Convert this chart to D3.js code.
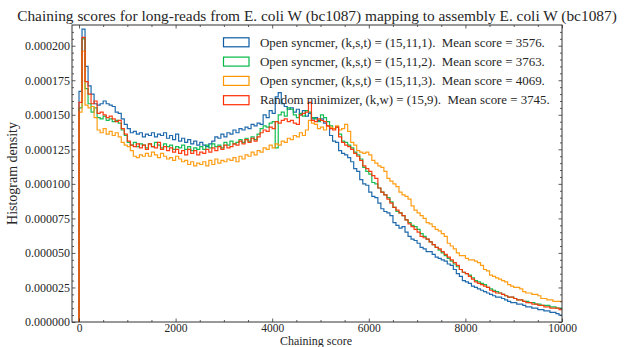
<!DOCTYPE html>
<html>
<head>
<meta charset="utf-8">
<script src="https://cdn.jsdelivr.net/npm/d3@7"></script>
<style>
  html, body { margin: 0; padding: 0; background: #ffffff; }
  svg { display: block; font-family: "Liberation Serif", "Times New Roman", serif; }
  text { white-space: pre; }
</style>
</head>
<body>
<svg id="chart" width="626" height="347"></svg>
<script>
// ---------- data (histogram density, in units of 1e-6) ----------
const titleText = "Chaining scores for long-reads from E. coli W (bc1087) mapping to assembly E. coli W (bc1087)";
const xLabelText = "Chaining score";
const yLabelText = "Histogram density";
const densityUnit = 1e-6;
const binWidth = 62.5;           // score units per histogram bin
const xTicks = [0, 2000, 4000, 6000, 8000, 10000];
const yTicks = [0, 0.000025, 0.00005, 0.000075, 0.0001, 0.000125, 0.00015, 0.000175, 0.0002];

const seriesLabels = [
  "Open syncmer, (k,s,t) = (15,11,1).  Mean score = 3576.",
  "Open syncmer, (k,s,t) = (15,11,2).  Mean score = 3763.",
  "Open syncmer, (k,s,t) = (15,11,3).  Mean score = 4069.",
  "Random minimizer, (k,w) = (15,9).  Mean score = 3745."
];
const seriesColors = ["#0C5DA5", "#00B945", "#FF9500", "#FF2C00"];

const syncmerT1 = [
  167,212,185,171,165,158,157,158,160,158,
  157,156,152,151,147,143,140,137,138,136,
  137,134,136,135,137,134,136,135,137,133,
  135,132,136,131,133,130,132,129,131,128,
  130,128,127,129,131,134,133,136,134,137,
  136,139,137,140,139,141,140,143,142,144,
  143,150,148,153,151,163,166,158,156,154,
  155,152,154,150,153,149,151,147,148,146,
  147,144,142,135,131,130,124,122,121,119,
  116,111,109,103,100,99,94,91,90,86,
  82,80,79,77,72,70,68,69,65,62,
  60,59,57,54,53,51,51,49,47,46,
  45,44,42,41,38,35,33,30,29,28,
  26,25,24,23,22,21,20,19,18,18,
  17,16,15,14,14,13,13,12,11,11,
  10,10,9,9,8,8,7,7,6,5
];
const syncmerT2 = [
  155,205,169,158,152,155,148,147,149,146,
  147,145,146,144,139,135,130,128,130,127,
  129,128,126,129,127,130,128,126,129,127,
  128,125,127,126,128,125,127,124,126,125,
  127,125,128,126,129,127,128,126,130,128,
  131,129,130,132,130,133,131,134,132,136,
  140,142,141,144,145,126,150,152,149,155,
  154,150,148,151,149,153,152,148,147,145,
  150,148,145,142,140,141,136,131,130,128,
  126,123,121,118,112,109,107,101,100,97,
  94,92,90,87,83,80,79,77,74,72,
  70,69,67,64,62,60,58,56,54,52,
  50,48,46,44,42,40,38,36,35,34,
  32,30,29,28,27,25,24,23,22,21,
  20,19,18,18,17,16,16,15,15,14,
  14,13,13,12,12,12,11,11,10,10
];
const syncmerT3 = [
  152,196,157,155,156,148,139,137,140,136,
  138,135,137,134,130,128,127,124,120,119,
  121,120,122,120,123,121,119,122,120,118,
  119,117,120,118,116,117,114,116,113,115,
  114,116,113,117,114,118,115,117,116,118,
  117,119,116,120,118,121,120,123,121,124,
  123,126,125,128,126,129,128,131,130,133,
  132,135,134,137,135,139,146,144,143,140,
  141,139,142,141,140,142,139,140,143,138,
  130,128,124,123,122,123,121,117,115,113,
  112,109,104,102,100,98,94,92,91,89,
  84,81,79,77,75,72,71,69,67,66,
  64,62,57,55,53,50,48,48,46,45,
  45,44,43,41,38,37,34,33,32,31,
  30,29,27,26,25,25,24,22,21,21,
  20,20,19,17,17,16,16,15,15,15
];
const minimizerW9 = [
  159,206,174,165,158,160,151,152,150,148,
  149,147,145,146,140,136,131,128,127,129,
  126,128,125,129,127,126,130,125,127,124,
  126,123,125,122,124,121,125,122,124,121,
  123,122,125,123,126,124,127,125,128,126,
  127,129,128,131,129,132,130,133,131,134,
  137,139,138,141,140,145,144,146,147,145,
  146,144,143,150,151,152,159,146,145,147,
  146,145,142,140,139,141,134,130,128,127,
  125,122,120,117,113,111,109,106,104,97,
  94,92,89,86,83,81,79,77,74,71,
  69,67,65,62,61,60,58,56,54,53,
  51,49,47,45,43,41,38,36,35,33,
  31,29,28,27,26,25,23,22,21,21,
  20,19,18,18,17,16,16,15,14,14,
  13,13,12,12,11,11,10,10,10,9
];
const seriesValues = [syncmerT1, syncmerT2, syncmerT3, minimizerW9];

// ---------- layout ----------
const svg = d3.select("#chart");
const plot = { left: 72, right: 562, top: 25, bottom: 322 };
const x = d3.scaleLinear().domain([-145, 10000]).range([plot.left, plot.right]);
const y = d3.scaleLinear().domain([0, 0.000215]).range([plot.bottom, plot.top]);
const textColor = "#262626";
const axisColor = "#333333";

function fitWidth(sel, target) {
  const node = sel.node();
  const fs = parseFloat(sel.attr("font-size"));
  const w = node.getComputedTextLength();
  if (w > 0) sel.attr("font-size", (fs * target / w).toFixed(2));
}

svg.append("clipPath").attr("id", "clip")
  .append("rect")
  .attr("x", plot.left).attr("y", plot.top)
  .attr("width", plot.right - plot.left).attr("height", plot.bottom - plot.top);

// ---------- histograms ----------
const g = svg.append("g").attr("clip-path", "url(#clip)");
seriesValues.forEach((vals, si) => {
  const pts = [[x(0), y(0)]];
  vals.forEach((v, i) => {
    const d = v * densityUnit;
    pts.push([x(i * binWidth), y(d)]);
    pts.push([x((i + 1) * binWidth), y(d)]);
  });
  g.append("path")
    .attr("d", d3.line()(pts))
    .attr("fill", "none")
    .attr("stroke", seriesColors[si])
    .attr("stroke-width", 1.2)
    .attr("stroke-opacity", 0.92)
    .attr("stroke-linejoin", "miter");
});

// ---------- axes (inward ticks on all sides) ----------
const xMinor = d3.range(0, 10001, 500).filter(v => v % 2000 !== 0);
const yMinor = d3.range(0, 43).map(i => i * 0.000005).filter(v => v <= 0.000215 && Math.round(v / 0.000005) % 5 !== 0);

function styleAxis(sel, fontSize) {
  sel.selectAll(".domain").remove();
  sel.selectAll(".tick line").attr("stroke", axisColor).attr("stroke-width", 0.8);
  sel.selectAll(".tick text").attr("fill", textColor)
    .attr("font-family", "Liberation Serif, serif").attr("font-size", fontSize || 12);
}

// bottom
svg.append("g").attr("transform", `translate(0,${plot.bottom})`)
  .call(d3.axisBottom(x).tickValues(xTicks).tickFormat(d3.format("d")).tickSize(-3.5).tickPadding(2))
  .call(styleAxis, 11.5);
svg.append("g").attr("transform", `translate(0,${plot.bottom})`)
  .call(d3.axisBottom(x).tickValues(xMinor).tickFormat("").tickSize(-2))
  .call(styleAxis);
// top
svg.append("g").attr("transform", `translate(0,${plot.top})`)
  .call(d3.axisTop(x).tickValues(xTicks).tickFormat("").tickSize(-3.5))
  .call(styleAxis);
svg.append("g").attr("transform", `translate(0,${plot.top})`)
  .call(d3.axisTop(x).tickValues(xMinor).tickFormat("").tickSize(-2))
  .call(styleAxis);
// left
svg.append("g").attr("transform", `translate(${plot.left},0)`)
  .call(d3.axisLeft(y).tickValues(yTicks).tickFormat(d3.format(".6f")).tickSize(-3.5).tickPadding(2))
  .call(styleAxis, 12);
svg.append("g").attr("transform", `translate(${plot.left},0)`)
  .call(d3.axisLeft(y).tickValues(yMinor).tickFormat("").tickSize(-2))
  .call(styleAxis);
// right
svg.append("g").attr("transform", `translate(${plot.right},0)`)
  .call(d3.axisRight(y).tickValues(yTicks).tickFormat("").tickSize(-3.5))
  .call(styleAxis);
svg.append("g").attr("transform", `translate(${plot.right},0)`)
  .call(d3.axisRight(y).tickValues(yMinor).tickFormat("").tickSize(-2))
  .call(styleAxis);

// frame
svg.append("rect")
  .attr("x", plot.left).attr("y", plot.top)
  .attr("width", plot.right - plot.left).attr("height", plot.bottom - plot.top)
  .attr("fill", "none").attr("stroke", axisColor).attr("stroke-width", 1);

// ---------- titles ----------
const title = svg.append("text")
  .attr("x", (plot.left + plot.right) / 2).attr("y", 21)
  .attr("text-anchor", "middle").attr("font-size", 15).attr("fill", textColor)
  .text(titleText);
fitWidth(title, 600);

const xl = svg.append("text")
  .attr("x", 316).attr("y", 344.5)
  .attr("text-anchor", "middle").attr("font-size", 12).attr("fill", textColor)
  .text(xLabelText);
fitWidth(xl, 72);

const yl = svg.append("text")
  .attr("transform", `translate(17,${(plot.top + plot.bottom) / 2}) rotate(-90)`)
  .attr("text-anchor", "middle").attr("font-size", 11).attr("fill", textColor)
  .text(yLabelText);
fitWidth(yl, 103);

// ---------- legend ----------
const legendRows = [42.3, 61.6, 80.9, 100.2];
const legend = svg.append("g");
seriesLabels.forEach((lab, i) => {
  legend.append("rect")
    .attr("x", 223.5).attr("y", legendRows[i] - 4.5)
    .attr("width", 25.5).attr("height", 9)
    .attr("fill", "none").attr("stroke", seriesColors[i]).attr("stroke-width", 1.2);
  const t = legend.append("text")
    .attr("x", 260).attr("y", legendRows[i] + 4.2)
    .attr("font-size", 12.5).attr("fill", textColor)
    .text(lab);
  fitWidth(t, i === 3 ? 290 : 285);
});
</script>
</body>
</html>
